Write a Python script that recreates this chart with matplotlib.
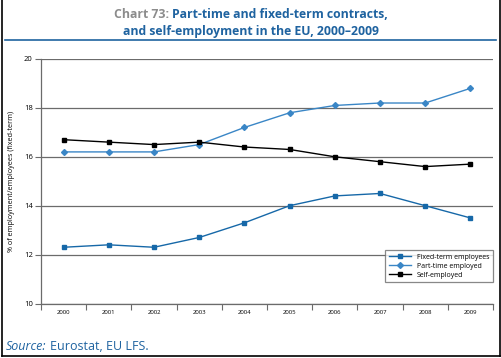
import matplotlib
matplotlib.use("Agg")
import matplotlib.pyplot as plt
from matplotlib.lines import Line2D

years = ["2000", "2001", "2002", "2003", "2004", "2005", "2006", "2007", "2008", "2009"]
fixed_term = [12.3, 12.4, 12.3, 12.7, 13.3, 14.0, 14.4, 14.5, 14.0, 13.5]
part_time = [16.2, 16.2, 16.2, 16.5, 17.2, 17.8, 18.1, 18.2, 18.2, 18.8]
self_employed = [16.7, 16.6, 16.5, 16.6, 16.4, 16.3, 16.0, 15.8, 15.6, 15.7]
series_names = ["Fixed-term employees", "Part-time employed", "Self-employed"]
y_ticks = [10, 12, 14, 16, 18, 20]

plt.rcParams['font.family'] = ['Open Sans', 'DejaVu Sans']

fig = plt.figure(figsize=(5.01, 3.58), dpi=100)
ax = fig.add_axes([41/501, 1-303.5/358, (493-41)/501, (303.5-59)/358])

x = list(range(len(years)))
c_fixed = "#1668a8"
c_part = "#3a86c6"
ax.plot(x, fixed_term, color=c_fixed, lw=1.0, marker='s', ms=3.2, mfc=c_fixed, mec=c_fixed, label=series_names[0], zorder=3)
ax.plot(x, part_time, color=c_part, lw=1.0, marker='D', ms=3.0, mfc=c_part, mec=c_part, label=series_names[1], zorder=3)
ax.plot(x, self_employed, color="black", lw=1.0, marker='s', ms=3.2, mfc="black", mec="black", label=series_names[2], zorder=3)

ax.set_xlim(-0.5, len(years) - 0.5)
ax.set_ylim(10, 20)
ax.set_yticks(y_ticks)
ax.set_yticklabels([str(t) for t in y_ticks], fontsize=5.5)
ax.set_xticks(x)
ax.set_xticklabels(years, fontsize=4.3)
ax.set_xticks([i - 0.5 for i in range(len(years) + 1)], minor=True)
ax.tick_params(axis='x', which='major', length=0, pad=5)
ax.tick_params(axis='x', which='minor', length=4, width=0.8, color="#6b6b6b", direction='out')
ax.tick_params(axis='y', length=4, width=0.8, color="#6b6b6b", direction='out', pad=2)
ax.grid(axis='y', color="#6b6b6b", lw=0.9, zorder=1)
for s in ['top', 'right']:
    ax.spines[s].set_visible(False)
for s in ['left', 'bottom']:
    ax.spines[s].set_color("#6b6b6b")
    ax.spines[s].set_linewidth(0.9)

ax.set_ylabel("% of employment/employees (fixed-term)", fontsize=5.2, labelpad=6)

leg = ax.legend(loc='lower right', bbox_to_anchor=(1.0, 0.087), borderaxespad=0, fontsize=5, frameon=True,
                fancybox=False, edgecolor="#6b6b6b", handlelength=3.2, borderpad=0.5,
                labelspacing=0.3, handletextpad=0.9)
leg.get_frame().set_linewidth(0.9)

# title
fig.canvas.draw()
r = fig.canvas.get_renderer()
title_blue = "#1f63a0"
t1a = fig.text(0, 0, "Chart 73: ", fontsize=8.8, fontweight='bold', color="#8c8c8c")
t1b = fig.text(0, 0, "Part-time and fixed-term contracts,", fontsize=8.8, fontweight='bold', color=title_blue)
w1 = t1a.get_window_extent(r).width
w2 = t1b.get_window_extent(r).width
W = fig.bbox.width
start = (W - (w1 + w2)) / 2
t1a.set_position((start / W, 1 - 15/358))
t1b.set_position(((start + w1) / W, 1 - 15/358))
t1a.set_va('center'); t1b.set_va('center')
fig.text(0.5, 1 - 31/358, "and self-employment in the EU, 2000\u20132009", fontsize=8.8, fontweight='bold',
         color=title_blue, ha='center', va='center')

fig.add_artist(Line2D([5/501, 496/501], [1 - 39.5/358] * 2, color="#1f63a0", lw=1.2))

# border
fig.add_artist(Line2D([1.5/501, 1.5/501], [2/358, 1], color="black", lw=1.2))
fig.add_artist(Line2D([499.5/501, 499.5/501], [2/358, 1], color="black", lw=1.2))
fig.add_artist(Line2D([1.5/501, 499.5/501], [2/358, 2/358], color="black", lw=1.2))

# source
s1 = fig.text(6/501, 1 - 347/358, "Source:", fontsize=9, style='italic', color=title_blue, va='center')
fig.canvas.draw()
ws = s1.get_window_extent(r).width
fig.text((6 + ws + 3) / 501, 1 - 347/358, "Eurostat, EU LFS.", fontsize=9, color=title_blue, va='center')

fig.savefig("out.png", dpi=100)
